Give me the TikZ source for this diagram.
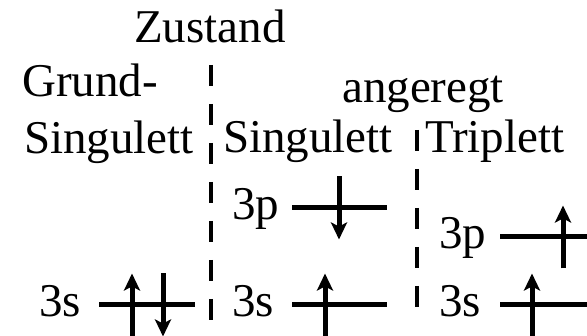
\documentclass[tikz,border=0pt]{standalone}
\usepackage{fontspec}
\setmainfont{Liberation Serif}
\usetikzlibrary{arrows.meta,calc}

\begin{document}
\begin{tikzpicture}[
x=1pt, y=-1pt,
lbl/.style={anchor=base west, inner sep=0pt, font=\fontsize{47}{51}\selectfont},
level/.style={line width=5pt},
spin/.style={-{Stealth[length=17pt,width=16pt,inset=4pt]}, line width=5pt},
sep/.style={line width=4pt, dash pattern=on 21pt off 18pt}
]
\useasboundingbox (0,0) rectangle (587,336);
\clip (0,0) rectangle (587,336);

\node[lbl] (zust) at (134,43) {Zustand};
\node[lbl] (grund) at (22,97) {Grund-};
\node[lbl] (gsing) at (24,154) {Singulett};
\node[lbl] (ang) at (342,103) {angeregt};
\node[lbl] (asing) at (223,153) {Singulett};
\node[lbl] (trip) at (425,153) {Triplett};

% separators
\coordinate (s1top) at (211,65);
\coordinate (s1bot) at (211,340);
\coordinate (s2top) at (417,130);
\coordinate (s2bot) at (417,323);
\draw[sep] (s1top) -- (s1bot);
\draw[sep] (s2top) -- (s2bot);

% ground state
\node[lbl] (g3s) at (39,317) {3s};
\coordinate (g3sa) at (99,305);
\coordinate (g3sb) at (195,305);
\draw[level] (g3sa) -- (g3sb);
\draw[spin] ($(g3sa)+(33,31.5)$) -- ($(g3sa)+(33,-31.5)$);
\draw[spin] ($(g3sa)+(64,-31.5)$) -- ($(g3sa)+(64,31.5)$);

% excited singlet
\node[lbl] (sp) at (232,220) {3p};
\node[lbl] (ss) at (232,317) {3s};
\coordinate (sp-a) at (292,208);
\coordinate (sp-b) at (387,208);
\coordinate (ss-a) at (292,305);
\coordinate (ss-b) at (387,305);
\draw[level] (sp-a) -- (sp-b);
\draw[level] (ss-a) -- (ss-b);
\draw[spin] ($(sp-a)+(47,-31.5)$) -- ($(sp-a)+(47,31.5)$);
\draw[spin] ($(ss-a)+(33,31.5)$) -- ($(ss-a)+(33,-31.5)$);

% triplet
\node[lbl] (tp) at (439,249) {3p};
\node[lbl] (ts) at (439,317) {3s};
\coordinate (tp-a) at (500,237);
\coordinate (tp-b) at (595,237);
\coordinate (ts-a) at (500,305);
\coordinate (ts-b) at (595,305);
\draw[level] (tp-a) -- (tp-b);
\draw[level] (ts-a) -- (ts-b);
\draw[spin] ($(tp-a)+(63,31.5)$) -- ($(tp-a)+(63,-31.5)$);
\draw[spin] ($(ts-a)+(32,31.5)$) -- ($(ts-a)+(32,-31.5)$);
\end{tikzpicture}
\end{document}
